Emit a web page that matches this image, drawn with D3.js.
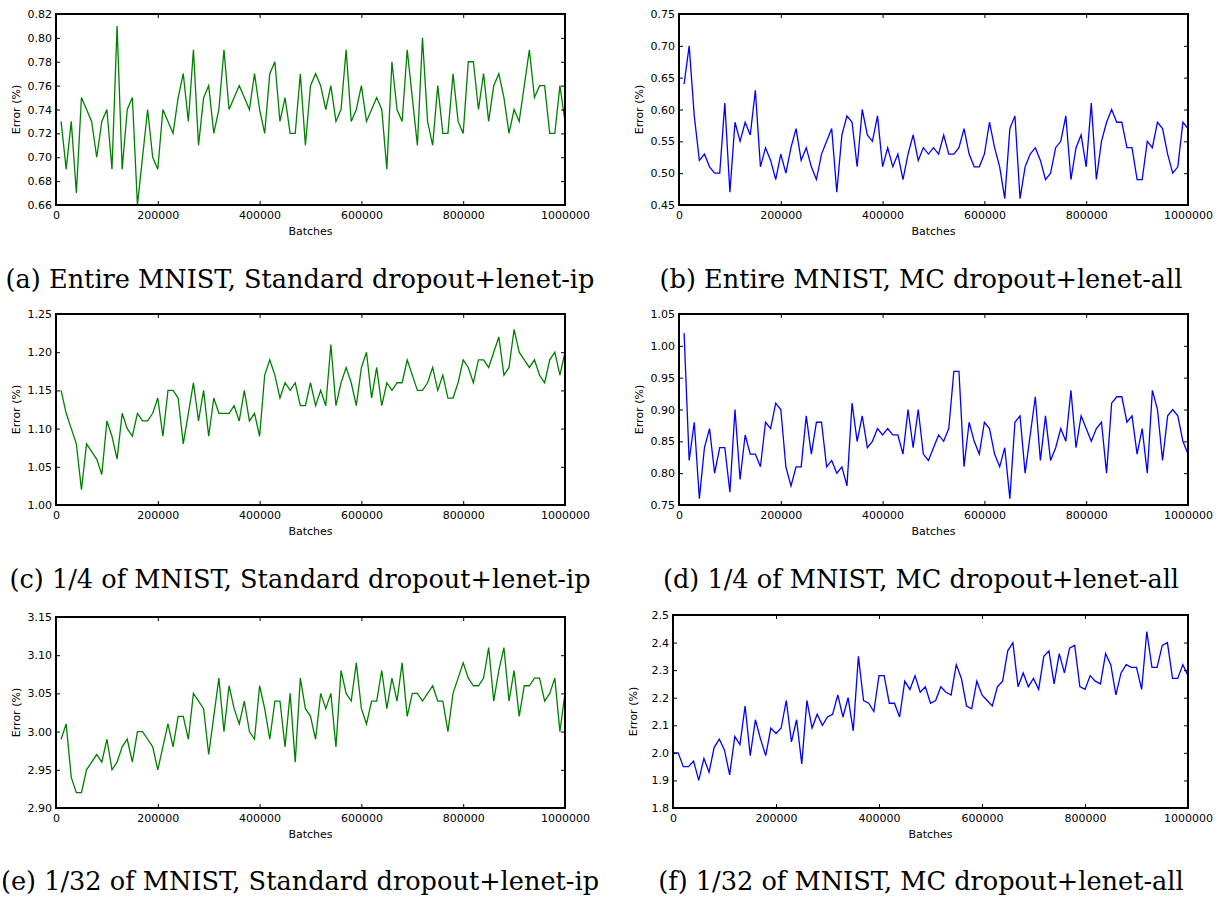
<!DOCTYPE html>
<html>
<head>
<meta charset="utf-8">
<script src="https://cdn.jsdelivr.net/npm/d3@7"></script>
<style>
  html, body { margin: 0; padding: 0; background: #fff; }
  svg { display: block; }
</style>
</head>
<body>
<svg id="fig" width="1225" height="899"></svg>
<script>
// Test error (%) logged every 10000 batches.
const batchTicks = [0, 200000, 400000, 600000, 800000, 1000000];

const errEntireStd = [
  0.73,0.69,0.73,0.67,0.75,0.74,0.73,0.70,0.73,0.74,
  0.69,0.81,0.69,0.74,0.75,0.66,0.70,0.74,0.70,0.69,
  0.74,0.73,0.72,0.75,0.77,0.73,0.79,0.71,0.75,0.76,
  0.72,0.74,0.79,0.74,0.75,0.76,0.75,0.74,0.77,0.74,
  0.72,0.77,0.78,0.73,0.75,0.72,0.72,0.77,0.71,0.76,
  0.77,0.76,0.74,0.76,0.73,0.74,0.79,0.73,0.74,0.76,
  0.73,0.74,0.75,0.74,0.69,0.78,0.74,0.73,0.79,0.75,
  0.71,0.80,0.73,0.71,0.76,0.72,0.72,0.77,0.73,0.72,
  0.78,0.78,0.74,0.77,0.73,0.76,0.77,0.75,0.72,0.74,
  0.73,0.76,0.79,0.75,0.76,0.76,0.72,0.72,0.76,0.73
];

const errEntireMC = [
  0.64,0.70,0.59,0.52,0.53,0.51,0.50,0.50,0.61,0.47,
  0.58,0.55,0.58,0.56,0.63,0.51,0.54,0.52,0.49,0.53,
  0.50,0.54,0.57,0.52,0.54,0.51,0.49,0.53,0.55,0.57,
  0.47,0.56,0.59,0.58,0.51,0.60,0.56,0.55,0.59,0.51,
  0.54,0.51,0.53,0.49,0.53,0.56,0.52,0.54,0.53,0.54,
  0.53,0.56,0.53,0.53,0.54,0.57,0.53,0.51,0.51,0.53,
  0.58,0.54,0.51,0.46,0.57,0.59,0.46,0.51,0.53,0.54,
  0.52,0.49,0.50,0.54,0.55,0.59,0.49,0.54,0.56,0.51,
  0.61,0.49,0.55,0.58,0.60,0.58,0.58,0.54,0.54,0.49,
  0.49,0.55,0.54,0.58,0.57,0.53,0.50,0.51,0.58,0.57
];

const errQuarterStd = [
  1.15,1.12,1.10,1.08,1.02,1.08,1.07,1.06,1.04,1.11,
  1.09,1.06,1.12,1.10,1.09,1.12,1.11,1.11,1.12,1.14,
  1.09,1.15,1.15,1.14,1.08,1.12,1.16,1.11,1.15,1.09,
  1.14,1.12,1.12,1.12,1.13,1.11,1.15,1.11,1.12,1.09,
  1.17,1.19,1.17,1.14,1.16,1.15,1.16,1.13,1.13,1.16,
  1.13,1.15,1.13,1.21,1.13,1.16,1.18,1.16,1.13,1.18,
  1.20,1.14,1.18,1.13,1.16,1.15,1.16,1.16,1.19,1.17,
  1.15,1.15,1.16,1.18,1.15,1.17,1.14,1.14,1.16,1.19,
  1.18,1.16,1.19,1.19,1.18,1.20,1.22,1.17,1.18,1.23,
  1.20,1.19,1.18,1.19,1.17,1.16,1.19,1.20,1.17,1.20
];

const errQuarterMC = [
  1.02,0.82,0.88,0.76,0.84,0.87,0.80,0.84,0.84,0.77,
  0.90,0.79,0.86,0.83,0.83,0.81,0.88,0.87,0.91,0.90,
  0.81,0.78,0.81,0.81,0.89,0.83,0.88,0.88,0.81,0.82,
  0.80,0.81,0.78,0.91,0.85,0.89,0.84,0.85,0.87,0.86,
  0.87,0.86,0.86,0.83,0.90,0.84,0.90,0.83,0.82,0.84,
  0.86,0.85,0.87,0.96,0.96,0.81,0.88,0.85,0.83,0.88,
  0.87,0.83,0.81,0.84,0.76,0.88,0.89,0.80,0.86,0.92,
  0.82,0.89,0.82,0.84,0.87,0.85,0.93,0.84,0.89,0.87,
  0.85,0.87,0.88,0.80,0.91,0.92,0.92,0.88,0.89,0.83,
  0.87,0.80,0.93,0.90,0.82,0.89,0.90,0.89,0.85,0.83
];

const errSmallStd = [
  2.99,3.01,2.94,2.92,2.92,2.95,2.96,2.97,2.96,2.99,
  2.95,2.96,2.98,2.99,2.96,3.00,3.00,2.99,2.98,2.95,
  2.98,3.01,2.98,3.02,3.02,2.99,3.05,3.04,3.03,2.97,
  3.02,3.07,3.00,3.06,3.03,3.01,3.04,3.00,2.99,3.06,
  3.03,2.99,3.04,3.04,2.98,3.05,2.96,3.07,3.03,3.02,
  2.99,3.05,3.03,3.05,2.98,3.08,3.05,3.04,3.09,3.03,
  3.01,3.04,3.04,3.08,3.03,3.07,3.04,3.09,3.02,3.05,
  3.05,3.04,3.05,3.06,3.04,3.04,3.00,3.05,3.07,3.09,
  3.07,3.06,3.06,3.07,3.11,3.04,3.08,3.11,3.04,3.08,
  3.02,3.06,3.06,3.07,3.07,3.04,3.05,3.07,3.00,3.05
];

// this run also logs the error before the first batch
const errSmallMC = [
  2.00,
  2.00,1.95,1.95,1.97,1.90,1.98,1.93,2.02,2.05,2.01,
  1.92,2.06,2.03,2.17,1.99,2.12,2.05,1.99,2.09,2.07,
  2.09,2.19,2.04,2.12,1.96,2.19,2.09,2.14,2.10,2.13,
  2.14,2.21,2.13,2.20,2.08,2.35,2.19,2.18,2.15,2.28,
  2.28,2.18,2.18,2.13,2.26,2.23,2.28,2.22,2.24,2.18,
  2.19,2.24,2.22,2.21,2.32,2.27,2.17,2.16,2.26,2.21,
  2.19,2.17,2.24,2.26,2.37,2.40,2.24,2.29,2.24,2.27,
  2.23,2.35,2.37,2.25,2.36,2.29,2.38,2.39,2.24,2.23,
  2.28,2.26,2.25,2.36,2.32,2.21,2.29,2.32,2.31,2.31,
  2.23,2.44,2.31,2.31,2.39,2.40,2.27,2.27,2.32,2.28
];

const yTicksA = [0.66,0.68,0.70,0.72,0.74,0.76,0.78,0.80,0.82];
const yTicksB = [0.45,0.50,0.55,0.60,0.65,0.70,0.75];
const yTicksC = [1.00,1.05,1.10,1.15,1.20,1.25];
const yTicksD = [0.75,0.80,0.85,0.90,0.95,1.00,1.05];
const yTicksE = [2.90,2.95,3.00,3.05,3.10,3.15];
const yTicksF = [1.8,1.9,2.0,2.1,2.2,2.3,2.4,2.5];

const captions = [
  "(a) Entire MNIST, Standard dropout+lenet-ip",
  "(b) Entire MNIST, MC dropout+lenet-all",
  "(c) 1/4 of MNIST, Standard dropout+lenet-ip",
  "(d) 1/4 of MNIST, MC dropout+lenet-all",
  "(e) 1/32 of MNIST, Standard dropout+lenet-ip",
  "(f) 1/32 of MNIST, MC dropout+lenet-all"
];

const GREEN = "#008000", BLUE = "#0000ff";
const STEP = 10000;
const withBatches = (vals, start) => vals.map((v, i) => ({ x: start + i * STEP, y: v }));

const panels = [
  { data: withBatches(errEntireStd, STEP),  yTicks: yTicksA, fmt: ".2f", color: GREEN, box: [56, 565, 14, 205],  cap: captions[0], cx: 300, cy: 288 },
  { data: withBatches(errEntireMC, STEP),   yTicks: yTicksB, fmt: ".2f", color: BLUE,  box: [679, 1188, 14, 205], cap: captions[1], cx: 921, cy: 288 },
  { data: withBatches(errQuarterStd, STEP), yTicks: yTicksC, fmt: ".2f", color: GREEN, box: [56, 565, 314, 505], cap: captions[2], cx: 300, cy: 588 },
  { data: withBatches(errQuarterMC, STEP),  yTicks: yTicksD, fmt: ".2f", color: BLUE,  box: [679, 1188, 314, 505], cap: captions[3], cx: 921, cy: 588 },
  { data: withBatches(errSmallStd, STEP),   yTicks: yTicksE, fmt: ".2f", color: GREEN, box: [56, 565, 617, 808], cap: captions[4], cx: 300, cy: 890 },
  { data: withBatches(errSmallMC, 0),       yTicks: yTicksF, fmt: ".1f", color: BLUE,  box: [673, 1188, 615, 808], cap: captions[5], cx: 921, cy: 890 }
];

const svg = d3.select("#fig");
const TICK_FONT = "DejaVu Sans, Verdana, sans-serif";

panels.forEach(p => {
  const [x0, x1, y0, y1] = p.box;
  const x = d3.scaleLinear().domain([0, 1000000]).range([x0, x1]);
  const yExt = d3.extent(p.yTicks);
  const y = d3.scaleLinear().domain(yExt).range([y1, y0]);
  const g = svg.append("g");

  // data line
  g.append("path")
    .datum(p.data)
    .attr("fill", "none")
    .attr("stroke", p.color)
    .attr("stroke-width", 1.3)
    .attr("stroke-linejoin", "miter")
    .attr("d", d3.line().x(d => x(d.x)).y(d => y(d.y)));

  const styleAxis = sel => {
    sel.select(".domain").remove();
    sel.selectAll(".tick line").attr("stroke", "#000").attr("stroke-width", 1);
    sel.selectAll(".tick text")
      .attr("fill", "#000")
      .attr("font-family", TICK_FONT)
      .attr("font-size", 11);
  };

  // ticks point inward on all four sides
  g.append("g").attr("transform", `translate(0,${y1})`)
    .call(d3.axisBottom(x).tickValues(batchTicks).tickFormat(d3.format("d")).tickSize(-4).tickPadding(6))
    .call(styleAxis);
  g.append("g").attr("transform", `translate(0,${y0})`)
    .call(d3.axisTop(x).tickValues(batchTicks).tickFormat("").tickSize(-4))
    .call(styleAxis);
  g.append("g").attr("transform", `translate(${x0},0)`)
    .call(d3.axisLeft(y).tickValues(p.yTicks).tickFormat(d3.format(p.fmt)).tickSize(-4).tickPadding(4))
    .call(styleAxis);
  g.append("g").attr("transform", `translate(${x1},0)`)
    .call(d3.axisRight(y).tickValues(p.yTicks).tickFormat("").tickSize(-4))
    .call(styleAxis);

  // frame
  g.append("rect")
    .attr("x", x0).attr("y", y0)
    .attr("width", x1 - x0).attr("height", y1 - y0)
    .attr("fill", "none").attr("stroke", "#000").attr("stroke-width", 1.1)
    .attr("shape-rendering", "crispEdges");

  // axis titles
  g.append("text")
    .attr("x", (x0 + x1) / 2).attr("y", y1 + 30)
    .attr("text-anchor", "middle")
    .attr("font-family", TICK_FONT).attr("font-size", 11)
    .text("Batches");
  g.append("text")
    .attr("transform", `translate(${x0 - 36},${(y0 + y1) / 2}) rotate(-90)`)
    .attr("text-anchor", "middle")
    .attr("font-family", TICK_FONT).attr("font-size", 11)
    .text("Error (%)");
});

// sub-figure captions, sized so the first one spans its column
const capG = svg.append("g");
const probe = capG.append("text")
  .attr("font-family", "DejaVu Serif, serif").attr("font-size", 24)
  .text(captions[0]);
const capSize = 24 * 589 / probe.node().getComputedTextLength();
probe.remove();

panels.forEach(p => {
  capG.append("text")
    .attr("x", p.cx).attr("y", p.cy)
    .attr("text-anchor", "middle")
    .attr("font-family", "DejaVu Serif, serif")
    .attr("font-size", capSize)
    .attr("fill", "#000")
    .text(p.cap);
});
</script>
</body>
</html>
